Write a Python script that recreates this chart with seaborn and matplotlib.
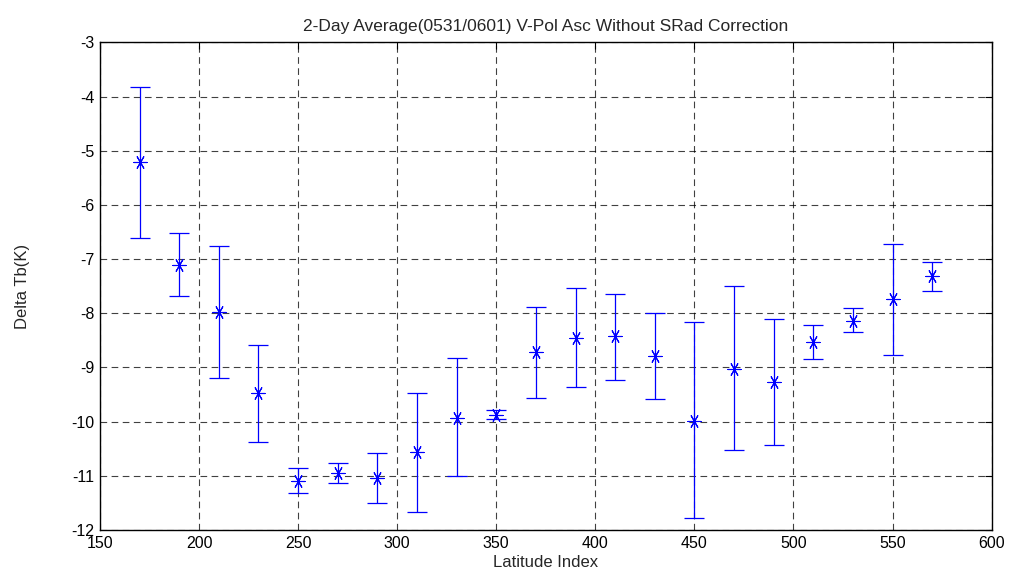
import numpy as np
import pandas as pd
import matplotlib
matplotlib.use("Agg")
import matplotlib.pyplot as plt
import seaborn as sns

# latitude index of each bin
lat_index = [170, 190, 210, 230, 250, 270, 290, 310, 330, 350, 370,
             390, 410, 430, 450, 470, 490, 510, 530, 550, 570]
# mean delta Tb (K)
delta_tb = [-5.21, -7.11, -7.98, -9.48, -11.09, -10.95, -11.04, -10.56, -9.93, -9.88, -8.71,
            -8.46, -8.42, -8.79, -9.98, -9.03, -9.27, -8.53, -8.14, -7.74, -7.32]
# error bar ends
bar_top = [-3.82, -6.52, -6.76, -8.59, -10.85, -10.77, -10.58, -9.48, -8.82, -9.79, -7.88,
           -7.53, -7.64, -8.00, -8.16, -7.50, -8.11, -8.22, -7.90, -6.72, -7.06]
bar_bottom = [-6.61, -7.69, -9.19, -10.37, -11.32, -11.14, -11.51, -11.67, -11.00, -9.96, -9.56,
              -9.37, -9.24, -9.59, -11.77, -10.53, -10.44, -8.85, -8.35, -8.77, -7.58]

x_ticks = list(range(150, 601, 50))
y_ticks = list(range(-12, -2))

df = pd.DataFrame({"lat": lat_index, "tb": delta_tb,
                   "top": bar_top, "bottom": bar_bottom})

sns.set_theme(style="white")
plt.rcParams["font.family"] = ["Liberation Sans", "DejaVu Sans"]
plt.rcParams["axes.unicode_minus"] = False

fig = plt.figure(figsize=(10.16, 5.8), dpi=100)
ax = fig.add_axes([0.0984, 0.0862, 0.8776, 0.8408])

lower = df["tb"] - df["bottom"]
upper = df["top"] - df["tb"]
ax.errorbar(df["lat"], df["tb"], yerr=[lower, upper], fmt="none",
            ecolor="#0000ff", elinewidth=0.9, capsize=7, capthick=0.9, zorder=3)

# asterisk markers like the MATLAB '*'
sns.scatterplot(data=df, x="lat", y="tb", marker=(6, 2, 90), s=90,
                color="#0000ff", linewidth=0.8, ax=ax, zorder=4, legend=False)

ax.set_xlim(150, 600)
ax.set_ylim(-12, -3)
ax.set_xticks(x_ticks)
ax.set_yticks(y_ticks)
ax.set_xticklabels([str(v) for v in x_ticks])
ax.set_yticklabels([str(v) for v in y_ticks])

ax.grid(True, color="black", linestyle=(0, (6, 4)), linewidth=0.8, alpha=0.75)
ax.tick_params(direction="in", length=5, width=0.8, colors="black",
               labelsize=11.5, top=True, right=True, pad=4)
for side in ax.spines.values():
    side.set_color("black")
    side.set_linewidth(1.0)

ax.set_xlabel("Latitude Index", fontsize=12, labelpad=3)
ax.set_ylabel("Delta Tb(K)", fontsize=12, labelpad=30)
ax.set_title("2-Day Average(0531/0601) V-Pol Asc Without SRad Correction",
             fontsize=12.5, pad=8)

fig.savefig("out.png", dpi=100)
